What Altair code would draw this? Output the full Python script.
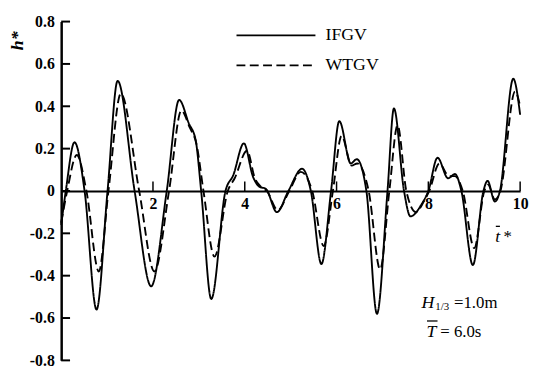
import altair as alt
import pandas as pd

SERIES = ["IFGV", "WTGV"]

ifgv_t = [0.0, 0.1, 0.29, 0.51, 0.77, 1.01, 1.23, 1.60, 1.96, 2.30, 2.57, 2.78, 2.93,
          3.05, 3.27, 3.58, 3.75, 3.98, 4.18, 4.32, 4.46, 4.70, 4.95, 5.25, 5.44, 5.67,
          5.88, 6.06, 6.31, 6.44, 6.65, 6.88, 7.11, 7.25, 7.47, 7.61, 7.86, 8.0, 8.2,
          8.43, 8.58, 8.72, 8.97, 9.2, 9.29, 9.45, 9.56, 9.85, 10.0]
ifgv_h = [-0.16, 0.0, 0.23, 0.0, -0.56, 0.0, 0.52, 0.0, -0.45, 0.0, 0.43, 0.32, 0.24,
          0.0, -0.51, 0.0, 0.075, 0.225, 0.067, 0.02, 0.01, -0.10, 0.0, 0.105, 0.0, -0.345,
          0.0, 0.33, 0.13, 0.15, 0.0, -0.58, 0.0, 0.39, 0.0, -0.12, -0.06, 0.0, 0.157,
          0.06, 0.08, 0.0, -0.35, 0.0, 0.048, -0.05, 0.0, 0.53, 0.36]

wtgv_t = [0.0, 0.13, 0.34, 0.55, 0.82, 1.03, 1.30, 1.70, 2.03, 2.35, 2.62, 2.80, 2.95,
          3.10, 3.34, 3.63, 3.78, 4.05, 4.22, 4.35, 4.48, 4.72, 4.97, 5.22, 5.47, 5.72,
          5.92, 6.11, 6.33, 6.45, 6.70, 6.95, 7.15, 7.33, 7.52, 7.73, 7.90, 8.02, 8.24,
          8.45, 8.58, 8.75, 9.0, 9.22, 9.30, 9.45, 9.57, 9.89, 10.0]
wtgv_h = [-0.15, 0.0, 0.17, 0.0, -0.38, 0.0, 0.46, 0.0, -0.38, 0.0, 0.38, 0.30, 0.22,
          0.0, -0.31, 0.0, 0.06, 0.19, 0.06, 0.02, 0.0, -0.09, 0.0, 0.09, 0.0, -0.26,
          0.0, 0.26, 0.12, 0.13, 0.0, -0.37, 0.0, 0.31, 0.0, -0.10, -0.05, 0.0, 0.13,
          0.07, 0.07, 0.0, -0.27, 0.0, 0.03, -0.04, 0.0, 0.47, 0.40]

x_tick_values = [2, 4, 6, 8, 10]
y_tick_values = [-0.8, -0.6, -0.4, -0.2, 0.0, 0.2, 0.4, 0.6, 0.8]

FONT = "Liberation Serif"

rows = []
for s, ts, hs in [(SERIES[0], ifgv_t, ifgv_h), (SERIES[1], wtgv_t, wtgv_h)]:
    for i, (t, h) in enumerate(zip(ts, hs)):
        rows.append({"series": s, "t": t, "h": h, "i": i})
df = pd.DataFrame(rows)

xscale = alt.Scale(domain=[0, 10], nice=False, zero=False)
yscale = alt.Scale(domain=[-0.8, 0.8], nice=False, zero=False)
dash = alt.StrokeDash("series:N", scale=alt.Scale(domain=SERIES, range=[[1, 0], [9, 4.5]]), legend=None)

ylabel = ("datum.value == 0 ? '0' : (datum.value < 0 ? '-' + format(-datum.value, '.1f') "
          ": format(datum.value, '.1f'))")

lines = alt.Chart(df).mark_line(color="black", strokeWidth=1.9, interpolate="monotone").encode(
    x=alt.X("t:Q", scale=xscale, axis=alt.Axis(
        values=x_tick_values, offset=-172, ticks=False, tickSize=0, domainWidth=2,
        domainColor="black", labelPadding=5, labelFlush=False, grid=False, title=None)),
    y=alt.Y("h:Q", scale=yscale, axis=alt.Axis(
        values=y_tick_values, ticks=False, tickSize=0, domainWidth=2.5, domainColor="black",
        labelExpr=ylabel, labelPadding=7, grid=False,
        title="h*", titleAngle=270, titleX=-44, titleY=19,
        titleFontStyle="italic", titleFontWeight="bold", titleFontSize=18,
        titleAlign="center", titleBaseline="middle", titleColor="black")),
    strokeDash=dash,
    detail="series:N",
    order="i:Q",
)

ytick_df = pd.DataFrame({"v": y_tick_values})
yticks = alt.Chart(ytick_df).mark_rule(color="black", strokeWidth=2).encode(
    y=alt.Y("v:Q", scale=yscale), x=alt.value(0), x2=alt.value(9))

xtick_df = pd.DataFrame({"v": x_tick_values})
xticks = alt.Chart(xtick_df).mark_rule(color="black", strokeWidth=1.5).encode(
    x=alt.X("v:Q", scale=xscale), y=alt.datum(0), y2=alt.datum(0.045))

leg_df = pd.DataFrame({"series": SERIES, "x1": [3.82, 3.82], "x2": [5.54, 5.54],
                       "y": [0.735, 0.593], "tx": [5.76, 5.76]})
leg_lines = alt.Chart(leg_df).mark_rule(color="black", strokeWidth=1.6).encode(
    x=alt.X("x1:Q", scale=xscale), x2="x2:Q", y=alt.Y("y:Q", scale=yscale), strokeDash=dash)
leg_text = alt.Chart(leg_df).mark_text(font=FONT, fontSize=18, align="left", baseline="middle",
                                       color="black").encode(
    x=alt.X("tx:Q", scale=xscale), y=alt.Y("y:Q", scale=yscale), text="series:N")

ann_it = pd.DataFrame({"x": [7.85, 7.96, 9.46], "y": [-0.553, -0.688, -0.242],
                       "text": ["H", "T", "t"]})
ann_rm = pd.DataFrame({"x": [8.56, 8.26, 9.64], "y": [-0.553, -0.688, -0.242],
                       "text": ["=1.0m", "= 6.0s", "*"]})
ann_sub = pd.DataFrame({"x": [8.15], "y": [-0.56], "text": ["1/3"]})

a1 = alt.Chart(ann_it).mark_text(font=FONT, fontSize=18, fontStyle="italic", align="left",
                                 baseline="alphabetic", color="black").encode(
    x=alt.X("x:Q", scale=xscale), y=alt.Y("y:Q", scale=yscale), text="text:N")
a2 = alt.Chart(ann_rm).mark_text(font=FONT, fontSize=17, align="left",
                                 baseline="alphabetic", color="black").encode(
    x=alt.X("x:Q", scale=xscale), y=alt.Y("y:Q", scale=yscale), text="text:N")
a3 = alt.Chart(ann_sub).mark_text(font=FONT, fontSize=11, align="left",
                                  baseline="alphabetic", color="black").encode(
    x=alt.X("x:Q", scale=xscale), y=alt.Y("y:Q", scale=yscale), text="text:N")

bar_df = pd.DataFrame({"x1": [7.97, 9.47], "x2": [8.2, 9.56], "y": [-0.614, -0.167]})
bars = alt.Chart(bar_df).mark_rule(color="black", strokeWidth=1.3).encode(
    x=alt.X("x1:Q", scale=xscale), x2="x2:Q", y=alt.Y("y:Q", scale=yscale))

chart = alt.layer(lines, yticks, xticks, leg_lines, leg_text, a1, a2, a3, bars).properties(
    width=466, height=344,
    padding={"left": 54, "top": 11, "right": 9, "bottom": 8},
    autosize=alt.AutoSizeParams(type="none"),
    background="white",
).configure_view(stroke=None).configure_axis(
    labelFont=FONT, labelFontSize=16, labelFontWeight="bold", labelColor="black",
    titleFont=FONT,
)

chart.save("out.html", embed_options={"renderer": "svg", "actions": False})
